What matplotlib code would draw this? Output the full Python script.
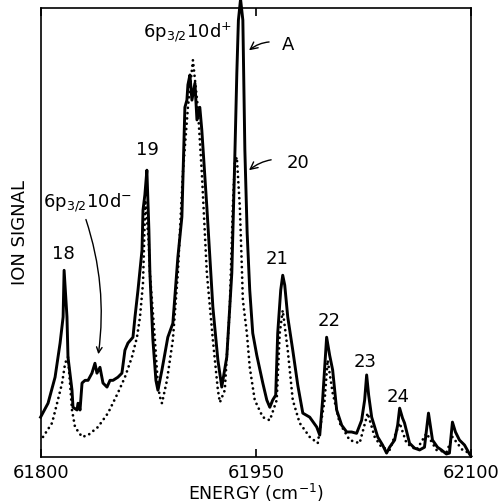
import numpy as np
import matplotlib
matplotlib.use('Agg')
import matplotlib.pyplot as plt

# measured spectrum (solid) -- energy in cm^-1, ion signal in % of frame height
e_meas = [61800.0, 61805.2, 61810.1, 61813.6, 61815.7, 61816.4, 61818.4, 61819.1,
          61821.9, 61822.6, 61825.4, 61826.1, 61827.5, 61828.9, 61831.0, 61833.1,
          61835.8, 61837.9, 61839.3, 61841.4, 61843.5, 61846.3, 61848.4, 61850.5,
          61853.9, 61856.7, 61858.8, 61860.9, 61864.4, 61865.8, 61867.9, 61870.7,
          61871.4, 61872.7, 61874.1, 61875.5, 61876.2, 61878.3, 61880.4, 61881.8,
          61884.6, 61888.7, 61892.2, 61895.7, 61898.5, 61900.6, 61902.0, 61902.7,
          61904.1, 61905.5, 61907.6, 61909.0, 61911.0, 61912.4, 61915.9, 61920.1,
          61923.6, 61926.3, 61929.8, 61933.3, 61935.4, 61936.8, 61937.9, 61939.4,
          61941.0, 61942.4, 61944.0, 61945.8, 61947.9, 61950.7, 61954.9, 61957.7,
          61959.8, 61961.8, 61963.9, 61965.3, 61967.4, 61968.8, 61970.2, 61972.3,
          61975.8, 61979.3, 61982.8, 61987.6, 61992.5, 61994.6, 61996.6, 61999.4,
          62001.5, 62003.6, 62006.4, 62009.9, 62013.4, 62016.8, 62020.3, 62023.8,
          62025.9, 62027.3, 62028.7, 62030.8, 62035.0, 62038.4, 62041.2, 62043.3,
          62046.8, 62048.9, 62050.3, 62052.3, 62053.7, 62057.2, 62060.7, 62064.2,
          62067.6, 62070.4, 62073.2, 62076.7, 62079.4, 62082.9, 62085.0, 62087.1,
          62089.2, 62092.0, 62095.5, 62099.0, 62100.0]
s_meas = [8.9, 12.0, 17.8, 25.4, 31.2, 41.6, 31.2, 22.3,
          14.9, 11.1, 10.5, 12.0, 10.5, 16.5, 17.1, 17.1,
          18.7, 20.9, 18.7, 20.0, 16.5, 15.6, 17.1, 17.1,
          17.8, 18.7, 23.8, 25.4, 26.7, 31.2, 37.2, 46.1,
          55.0, 58.4, 63.9, 50.6, 41.0, 26.1, 17.1, 14.9,
          19.4, 26.7, 29.8, 44.5, 53.5, 77.9, 79.5, 82.9,
          85.1, 79.5, 83.3, 75.1, 77.9, 72.8, 55.7, 33.4,
          21.6, 15.6, 22.3, 41.0, 66.8, 85.5, 97.3, 102.0,
          97.3, 68.4, 49.9, 37.2, 27.6, 22.7, 16.5, 12.7,
          11.1, 12.7, 13.8, 27.6, 37.2, 40.5, 38.3, 31.2,
          23.8, 16.0, 9.8, 8.9, 6.7, 4.9, 12.7, 26.7,
          22.7, 19.4, 10.5, 7.1, 5.6, 5.6, 5.3, 8.2,
          12.7, 18.3, 13.8, 8.9, 4.5, 2.7, 0.9, 2.2,
          3.8, 7.1, 10.9, 8.7, 7.6, 3.1, 2.0, 1.6,
          2.2, 9.8, 3.8, 2.2, 1.6, 0.7, 0.9, 7.8,
          5.6, 3.8, 2.7, 0.7, 0.2]

# calculated spectrum (dotted)
e_calc = [61801.7, 61808.0, 61811.5, 61815.0, 61817.1, 61819.1, 61820.5, 61821.9,
          61824.0, 61828.9, 61833.1, 61840.0, 61847.0, 61853.9, 61858.8, 61863.7,
          61867.2, 61869.3, 61871.4, 61873.0, 61875.3, 61876.2, 61879.7, 61881.8,
          61883.2, 61884.6, 61888.1, 61892.2, 61895.7, 61899.2, 61902.7, 61906.2,
          61909.6, 61912.4, 61915.9, 61920.1, 61923.6, 61925.0, 61928.4, 61931.9,
          61934.0, 61935.4, 61936.8, 61938.9, 61940.3, 61941.0, 61943.8, 61945.8,
          61949.3, 61954.9, 61959.8, 61964.6, 61966.7, 61968.8, 61972.3, 61975.8,
          61980.6, 61987.6, 61993.2, 61998.0, 62000.1, 62003.6, 62008.5, 62015.4,
          62022.4, 62028.0, 62032.9, 62037.7, 62043.3, 62050.3, 62055.1, 62062.1,
          62069.0, 62076.0, 62083.0, 62087.1, 62094.1, 62099.0]
s_calc = [4.5, 7.6, 12.0, 16.5, 20.9, 22.3, 16.5, 10.5,
          6.7, 4.5, 4.9, 6.7, 9.8, 14.3, 17.8, 22.3,
          26.7, 31.2, 38.8, 57.2, 48.3, 41.0, 26.1, 16.0,
          13.4, 12.0, 17.1, 26.1, 41.0, 63.3, 77.9, 88.4,
          77.9, 63.3, 41.0, 26.1, 14.9, 12.2, 14.9, 33.4,
          55.7, 65.5, 66.8, 55.7, 42.3, 35.0, 27.6, 20.0,
          12.7, 8.9, 8.2, 12.7, 27.6, 32.7, 23.8, 12.7,
          7.6, 4.5, 3.1, 12.7, 21.6, 14.3, 7.6, 3.8,
          3.1, 9.8, 4.5, 2.2, 1.6, 7.6, 3.1, 1.6,
          5.3, 1.6, 1.1, 4.5, 1.6, 0.9]

peak_labels = ['18', '19', '21', '22', '23', '24']
peak_label_e = [61815.7, 61874.8, 61964.6, 62000.8, 62025.9, 62048.9]
peak_label_s = [45.2, 68.4, 44.1, 30.3, 21.2, 13.4]

fig = plt.figure(figsize=(5.01, 5.04), dpi=100)
ax = fig.add_axes([0.081, 0.093, 0.859, 0.891])

ax.plot(e_meas, s_meas, color='black', lw=2.1, solid_joinstyle='round', clip_on=False)
ax.plot(e_calc, s_calc, color='black', lw=2.0, linestyle=(0, (0.01, 1.9)),
        dash_capstyle='round')

ax.set_xlim(61800, 62100)
ax.set_ylim(0, 100)
ax.set_xticks([61800, 61950, 62100])
ax.set_xticklabels(['61800', '61950', '62100'])
ax.set_yticks([])
ax.tick_params(axis='x', direction='in', length=6, width=1.2, top=True,
               labelsize=13, pad=5)
for sp in ax.spines.values():
    sp.set_linewidth(1.2)

ax.set_xlabel('ENERGY (cm$^{-1}$)', fontsize=12.5, labelpad=0)
ax.set_ylabel('ION SIGNAL', fontsize=13, labelpad=8)

for lab, x, y in zip(peak_labels, peak_label_e, peak_label_s):
    ax.text(x, y, lab, fontsize=13, ha='center', va='center')

ax.text(61902.7, 94.7, r'6p$_{3/2}$10d$^{+}$', fontsize=13, ha='center', va='center')
ax.text(61833.1, 56.6, r'6p$_{3/2}$10d$^{-}$', fontsize=13, ha='center', va='center')
ax.annotate('', xy=(61840.0, 22.3), xytext=(61831.0, 53.5),
            arrowprops=dict(arrowstyle='->', lw=1.0, color='black',
                            connectionstyle='arc3,rad=-0.12'))

ax.annotate('A', xy=(61943.8, 90.2), xytext=(61972.3, 91.8), fontsize=13,
            ha='center', va='center',
            arrowprops=dict(arrowstyle='->', lw=1.0, color='black',
                            shrinkA=7, connectionstyle='arc3,rad=0.3'))
ax.annotate('20', xy=(61943.8, 63.5), xytext=(61979.3, 65.5), fontsize=13,
            ha='center', va='center',
            arrowprops=dict(arrowstyle='->', lw=1.0, color='black',
                            shrinkA=9, connectionstyle='arc3,rad=0.3'))

fig.savefig('out.png', dpi=100)
